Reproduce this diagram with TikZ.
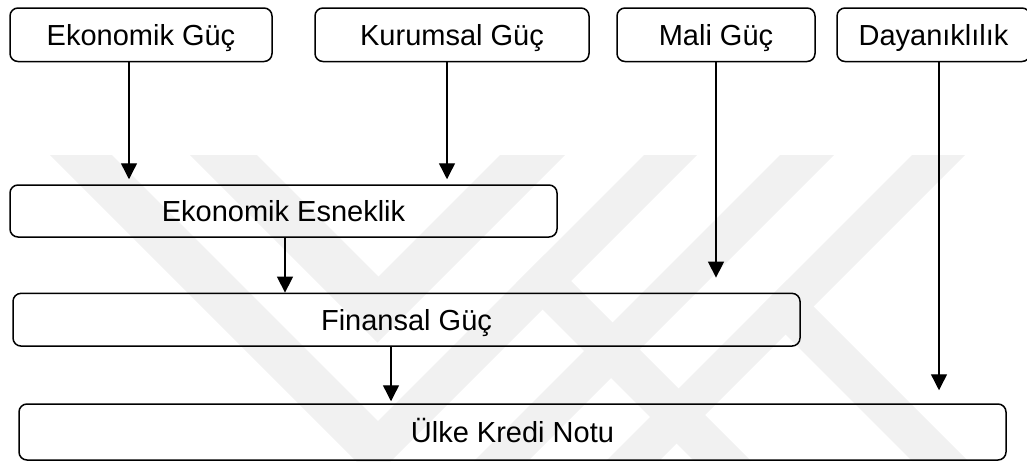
\documentclass[tikz,border=0pt]{standalone}
\usepackage{fontspec}
\setmainfont{Liberation Sans}
\usetikzlibrary{arrows.meta}
\definecolor{wmark}{RGB}{241,241,241}
\tikzset{
  box/.style={draw, line width=1.5pt, rounded corners=8pt, inner sep=0pt,
    text height=21pt, text depth=0pt, font=\fontsize{29}{34}\selectfont},
  link/.style={line width=1.4pt, -{Triangle[width=16pt,length=16pt]}},
}
\begin{document}
\begin{tikzpicture}[x=1pt,y=-1pt]
\useasboundingbox (0,0) rectangle (1027,461);
\begin{scope}
  \clip (0,0) rectangle (1027,461);
  % light background stripes
  \fill[wmark] (50,155) -- (112,155) -- (378,421) -- (644,155) -- (697,155) -- (373.5,478.5) -- cycle;
  \fill[wmark] (190,155) -- (257,155) -- (378.5,276.5) -- (500,155) -- (565,155) -- (377.5,342.5) -- cycle;
  \fill[wmark] (780,155) -- (834,155) -- (528,461) -- (474,461) -- cycle;
  \fill[wmark] (912,155) -- (965,155) -- (659,461) -- (606,461) -- cycle;
  \fill[wmark] (516,283) -- (544.5,254.5) -- (751,461) -- (694,461) -- cycle;
  \fill[wmark] (759,308) -- (787,280) -- (968,461) -- (912,461) -- cycle;

  % boxes
  \node[box, minimum width=262pt, minimum height=53.5pt] (eg) at (141,34.75) {Ekonomik Güç};
  \node[box, minimum width=274pt, minimum height=53.5pt] (kg) at (452,34.75) {Kurumsal Güç};
  \node[box, minimum width=198pt, minimum height=53.5pt] (mg) at (716,34.75) {Mali Güç};
  \node[box, minimum width=193pt, minimum height=53.5pt] (dy) at (933.5,34.75) {Dayanıklılık};
  \node[box, minimum width=547pt, minimum height=52pt] (ee) at (283.5,211) {Ekonomik Esneklik};
  \node[box, minimum width=787pt, minimum height=52.7pt] (fg) at (406.5,319.7) {Finansal Güç};
  \node[box, minimum width=987pt, minimum height=56pt] (uk) at (512.5,432) {Ülke Kredi Notu};
\end{scope}

% connectors
\draw[link, shorten >=5pt] ([xshift=-12pt]eg.south) -- ([xshift=-12pt]eg.south |- ee.north);
\draw[link, shorten >=5pt] ([xshift=-5pt]kg.south) -- ([xshift=-5pt]kg.south |- ee.north);
\draw[link, shorten >=15pt] (mg.south) -- (mg.south |- fg.north);
\draw[link, shorten >=13pt] ([xshift=5.5pt]dy.south) -- ([xshift=5.5pt]dy.south |- uk.north);
\draw[link] ([xshift=1.5pt]ee.south) -- ([xshift=1.5pt]ee.south |- fg.north);
\draw[link, shorten >=2pt] ([xshift=-15.5pt]fg.south) -- ([xshift=-15.5pt]fg.south |- uk.north);
\end{tikzpicture}
\end{document}
